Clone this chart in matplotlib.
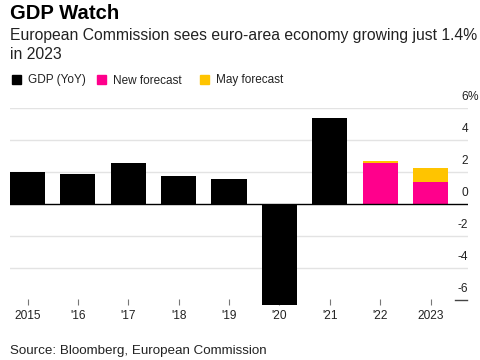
# GDP Watch - euro area GDP growth with Commission forecasts
import numpy as np
import matplotlib.pyplot as plt
import matplotlib.transforms as mtransforms

plt.rcParams['font.family'] = ['Liberation Sans', 'DejaVu Sans']

# data
years = ['2015', "'16", "'17", "'18", "'19", "'20", "'21", "'22", '2023']
gdp = [2.0, 1.9, 2.6, 1.8, 1.6, -6.3, 5.4, np.nan, np.nan]
new_forecast = [np.nan] * 7 + [2.6, 1.4]
may_forecast = [np.nan] * 7 + [2.7, 2.3]
ytick_vals = [6, 4, 2, 0, -2, -4, -6]
ytick_labels = ['6%', '4', '2', '0', '-2', '-4', '-6']

BLACK = '#000000'
PINK = '#ff008c'
YELLOW = '#ffc400'
GRID = '#e3e3e3'

fig = plt.figure(figsize=(4.8, 3.6), dpi=100)
W, H = 480, 360
ax = fig.add_axes([10 / W, 1 - 305.1 / H, 458 / W, (305.1 - 108.3) / H])

x = np.arange(len(years))
bw = 0.695

# gridlines
for v in ytick_vals:
    if v == 0 or v == -6:
        continue
    ax.axhline(v, color=GRID, lw=1, zorder=0)

ax.bar(x, gdp, width=bw, color=BLACK, zorder=2)
ax.bar(x, may_forecast, width=bw, color=YELLOW, zorder=2)
ax.bar(x, new_forecast, width=bw, color=PINK, zorder=3)
ax.axhline(0, color=BLACK, lw=1, zorder=4)

ax.set_xlim(-17.5 / 50.375, 440.5 / 50.375)
ax.set_ylim(-6.3, 6)

for s in ax.spines.values():
    s.set_visible(False)
ax.set_yticks([])
ax.set_xticks(x)
ax.set_xticklabels(years, fontsize=8.6, color='#222222')
ax.tick_params(axis='x', direction='in', length=4.5, width=0.8, color='#777777', pad=3.5)

# y labels on the right, above their gridline
tr = mtransforms.blended_transform_factory(ax.transAxes, ax.transData)
off = mtransforms.offset_copy(tr, fig=fig, x=0, y=4, units='points')
for v, lab in zip(ytick_vals, ytick_labels):
    num = lab.rstrip('%')
    ax.text(1.0, v, num, transform=off, ha='right', va='bottom',
            fontsize=8.6, color='#222222')
    if lab.endswith('%'):
        ax.text(1.0, v, '%', transform=off, ha='left', va='bottom',
                fontsize=8.6, color='#222222')
# short dash at the bottom gridline
ax.plot([445 / 458, 457 / 458], [-6, -6], transform=tr,
        color='#444444', lw=1, clip_on=False)

# titles
fig.text(10 / W, 1 - 19 / H, 'GDP Watch', fontsize=14.6, fontweight='bold',
         va='baseline', ha='left')
fig.text(10 / W, 1 - 40 / H, 'European Commission sees euro-area economy growing just 1.4%',
         fontsize=11.3, va='baseline', ha='left', color='#222222')
fig.text(10 / W, 1 - 59 / H, 'in 2023', fontsize=11.3, va='baseline', ha='left',
         color='#222222')

# legend
legend_items = [('GDP (YoY)', BLACK, 12), ('New forecast', PINK, 97), ('May forecast', YELLOW, 200)]
for lab, col, px in legend_items:
    fig.patches.append(plt.Rectangle((px / W, 1 - 83.5 / H), 9 / W, 8.5 / H,
                                     transform=fig.transFigure, color=col))
    fig.text((px + 16) / W, 1 - 83.5 / H, lab, fontsize=8.5, va='baseline',
             ha='left', color='#222222')

fig.text(10 / W, 1 - 354 / H, 'Source: Bloomberg, European Commission',
         fontsize=9.6, va='baseline', ha='left', color='#222222')

fig.savefig('out.png', dpi=100)
